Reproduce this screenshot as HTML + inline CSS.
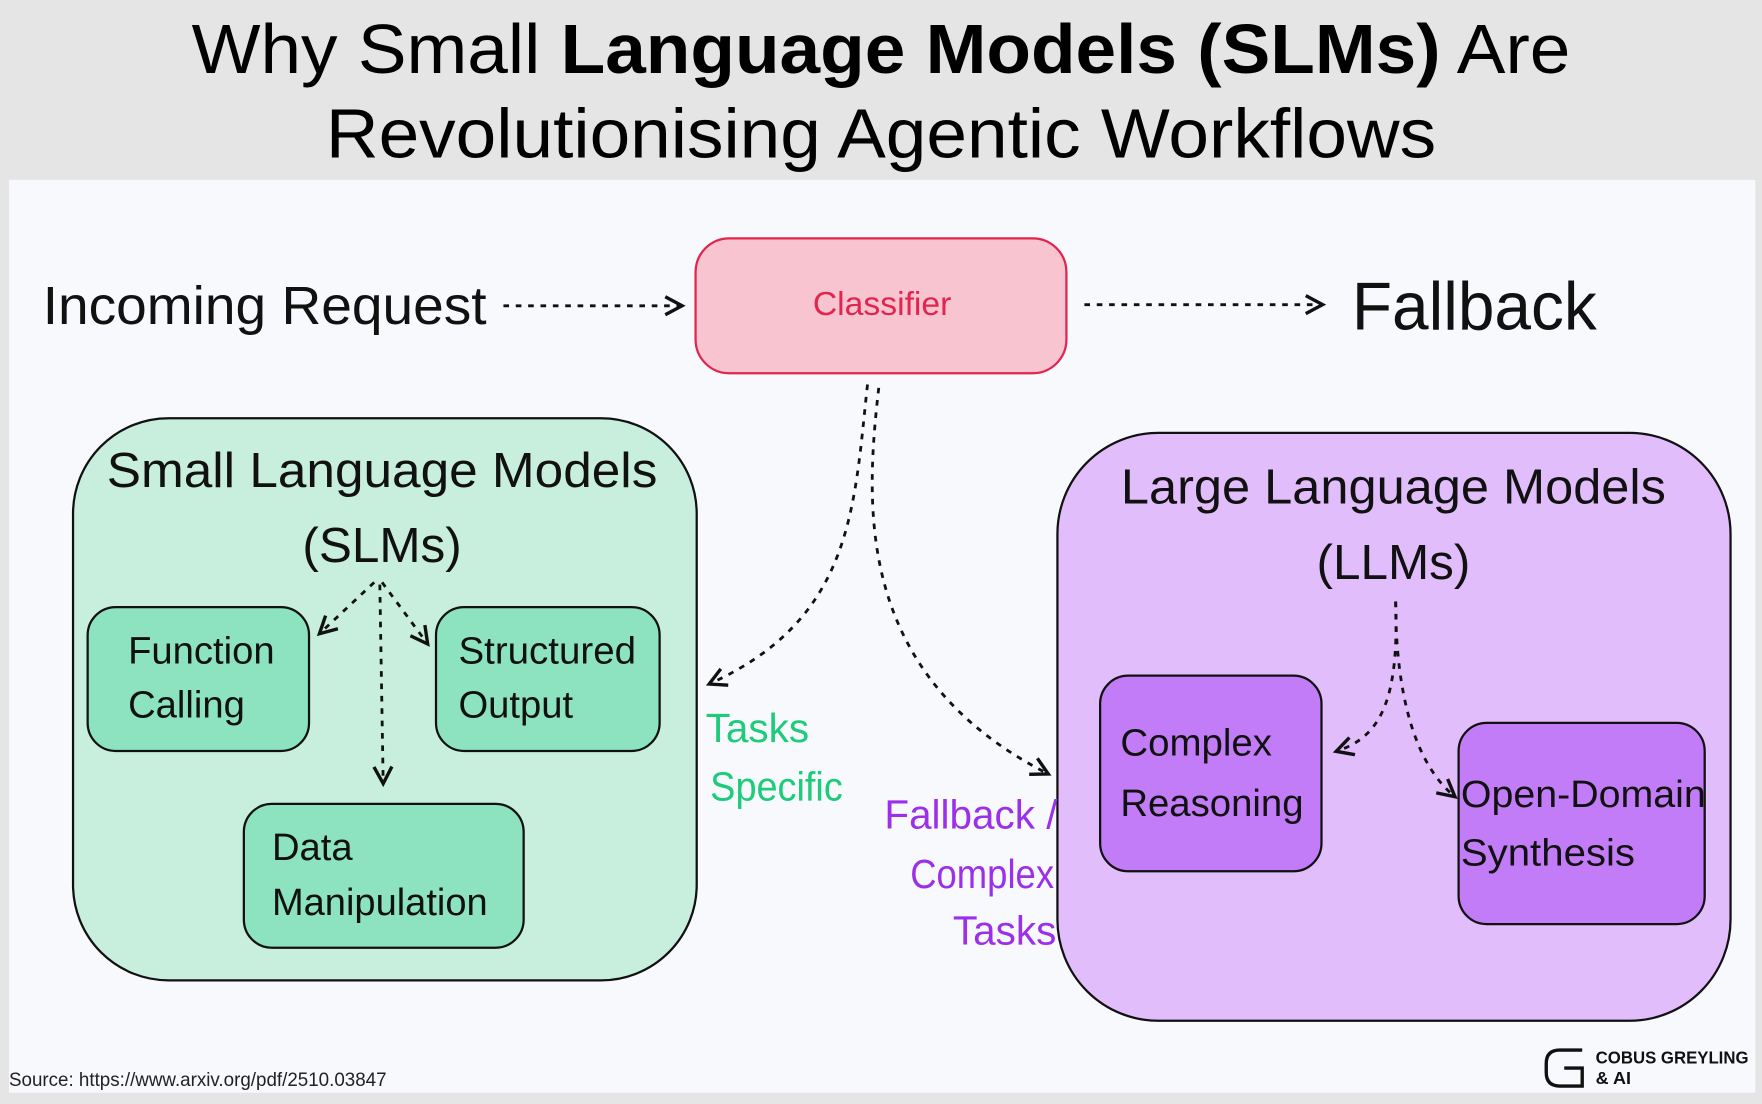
<!DOCTYPE html>
<html><head><meta charset="utf-8"><style>
html,body{margin:0;padding:0;background:#e5e5e5;}
svg{display:block}
text{font-family:"Liberation Sans",sans-serif}
</style></head><body>
<svg width="1762" height="1104" viewBox="0 0 1568 982" preserveAspectRatio="none" xmlns="http://www.w3.org/2000/svg">
<defs>
<marker id="ah" markerWidth="22" markerHeight="22" refX="17" refY="11" orient="auto" markerUnits="userSpaceOnUse"><path d="M3,3 L18,11 L3,19" fill="none" stroke="#111" stroke-width="3"/></marker>
</defs>
<rect width="1568" height="982" fill="#e5e5e5"/>
<text x="784" y="65" font-size="62" text-anchor="middle" fill="#000" textLength="1227" lengthAdjust="spacingAndGlyphs">Why Small <tspan font-weight="bold">Language Models (SLMs)</tspan> Are</text>
<text x="784" y="140" font-size="62" text-anchor="middle" fill="#000" textLength="988" lengthAdjust="spacingAndGlyphs">Revolutionising Agentic Workflows</text>
<rect x="8" y="160" width="1554" height="812" fill="#f7f9fd"/>

<rect x="619" y="212" width="330" height="120" rx="30" fill="#f8c4d0" stroke="#e0264f" stroke-width="2"/>
<text x="785" y="280" font-size="30" text-anchor="middle" fill="#e0264f">Classifier</text>

<text x="38" y="288" font-size="48" fill="#111" textLength="395" lengthAdjust="spacingAndGlyphs">Incoming Request</text>
<line x1="448" y1="272" x2="606" y2="272" stroke="#111" stroke-width="2.5" stroke-dasharray="5,6" marker-end="url(#ah)"/>
<line x1="965" y1="271" x2="1176" y2="271" stroke="#111" stroke-width="2.5" stroke-dasharray="5,6" marker-end="url(#ah)"/>
<text x="1203" y="293" font-size="60" fill="#111" textLength="218" lengthAdjust="spacingAndGlyphs">Fallback</text>

<rect x="65" y="372" width="555" height="500" rx="85" fill="#c8eedd" stroke="#111" stroke-width="2"/>
<text x="340" y="433" font-size="44" text-anchor="middle" fill="#111" textLength="490" lengthAdjust="spacingAndGlyphs">Small Language Models</text>
<text x="340" y="500" font-size="44" text-anchor="middle" fill="#111">(SLMs)</text>
<rect x="78" y="540" width="197" height="128" rx="25" fill="#8de2bf" stroke="#111" stroke-width="2"/>
<text x="114" y="590" font-size="34" fill="#111">Function</text>
<text x="114" y="638" font-size="34" fill="#111">Calling</text>
<rect x="388" y="540" width="199" height="128" rx="25" fill="#8de2bf" stroke="#111" stroke-width="2"/>
<text x="408" y="590" font-size="34" fill="#111" textLength="158" lengthAdjust="spacingAndGlyphs">Structured</text>
<text x="408" y="638" font-size="34" fill="#111">Output</text>
<rect x="217" y="715" width="249" height="128" rx="25" fill="#8de2bf" stroke="#111" stroke-width="2"/>
<text x="242" y="765" font-size="34" fill="#111">Data</text>
<text x="242" y="814" font-size="34" fill="#111" textLength="192" lengthAdjust="spacingAndGlyphs">Manipulation</text>
<g stroke="#111" stroke-width="2.5" stroke-dasharray="5,6" fill="none" marker-end="url(#ah)">
<line x1="333" y1="518" x2="285" y2="563"/>
<line x1="340" y1="518" x2="380" y2="572"/>
<line x1="338" y1="520" x2="341" y2="696"/>
</g>

<rect x="941" y="385" width="599" height="523" rx="90" fill="#e2bdfb" stroke="#111" stroke-width="2"/>
<text x="1240" y="448" font-size="44" text-anchor="middle" fill="#111" textLength="485" lengthAdjust="spacingAndGlyphs">Large Language Models</text>
<text x="1240" y="515" font-size="44" text-anchor="middle" fill="#111">(LLMs)</text>
<rect x="979" y="601" width="197" height="174" rx="25" fill="#c27cf8" stroke="#111" stroke-width="2"/>
<text x="997" y="672" font-size="34" fill="#111" textLength="135" lengthAdjust="spacingAndGlyphs">Complex</text>
<text x="997" y="726" font-size="34" fill="#111" textLength="163" lengthAdjust="spacingAndGlyphs">Reasoning</text>
<rect x="1298" y="643" width="219" height="179" rx="25" fill="#c27cf8" stroke="#111" stroke-width="2"/>
<text x="1300" y="718" font-size="34" fill="#111" textLength="218" lengthAdjust="spacingAndGlyphs">Open-Domain</text>
<text x="1300" y="770" font-size="34" fill="#111" textLength="155" lengthAdjust="spacingAndGlyphs">Synthesis</text>
<g stroke="#111" stroke-width="2.5" stroke-dasharray="5,6" fill="none" marker-end="url(#ah)">
<path d="M1242,535 C1245,620 1230,655 1190,668"/>
<path d="M1242,535 C1242,620 1260,680 1294,708"/>
<path d="M772,342 C760,450 760,550 632,608"/>
<path d="M782,345 C770,450 760,600 932,688"/>
</g>

<text x="628" y="660" font-size="36" fill="#1ecb7a">Tasks</text>
<text x="632" y="712" font-size="36" fill="#1ecb7a" textLength="118" lengthAdjust="spacingAndGlyphs">Specific</text>
<text x="787" y="737" font-size="36" fill="#9b30e8">Fallback /</text>
<text x="810" y="790" font-size="36" fill="#9b30e8" textLength="128" lengthAdjust="spacingAndGlyphs">Complex</text>
<text x="848" y="840" font-size="36" fill="#9b30e8">Tasks</text>

<text x="8" y="966" font-size="17" fill="#222" textLength="336" lengthAdjust="spacingAndGlyphs">Source: https://www.arxiv.org/pdf/2510.03847</text>
<path d="M1408,934 L1388,934 Q1376,934 1376,946 L1376,954 Q1376,966 1388,966 L1408,966 L1408,950 L1392,950" fill="none" stroke="#111" stroke-width="3"/>
<text x="1420" y="946" font-size="16" font-weight="bold" fill="#111" textLength="136" lengthAdjust="spacingAndGlyphs">COBUS GREYLING</text>
<text x="1420" y="964" font-size="16" font-weight="bold" fill="#111">&amp; AI</text>
</svg>
</body></html>
